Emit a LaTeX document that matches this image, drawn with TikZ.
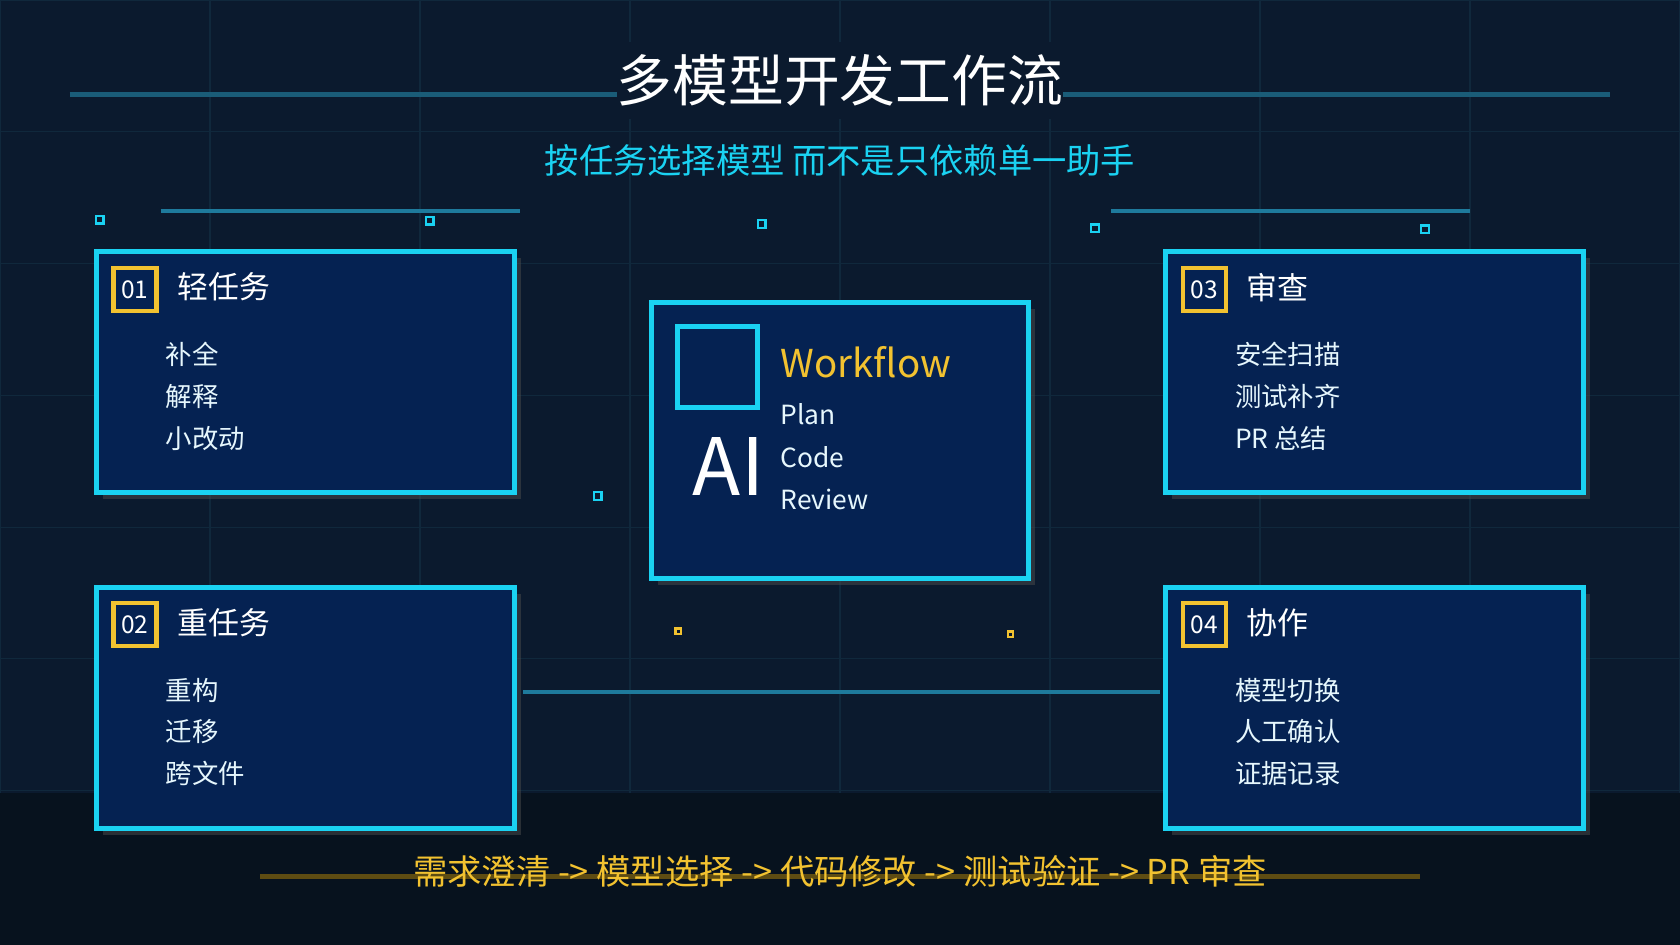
\documentclass[tikz,border=0pt]{standalone}
\usepackage{fontspec}
\setmainfont{Noto Sans CJK SC}
\usetikzlibrary{positioning}
\definecolor{bgtop}{HTML}{0B1A2E}
\definecolor{bgbot}{HTML}{07121E}
\definecolor{cardfill}{HTML}{052252}
\definecolor{cyanline}{HTML}{1AD2F2}
\definecolor{tealline}{HTML}{1A5C78}
\definecolor{tealbright}{HTML}{1E7A9C}
\definecolor{gold}{HTML}{F2C230}
\definecolor{dimgold}{HTML}{5E4C12}
\definecolor{gridc}{HTML}{10283C}
\tikzset{
  card/.style={draw=cyanline, line width=1.3pt, fill=cardfill},
  badge/.style={draw=gold, line width=1.1pt, minimum size=0.4cm, inner sep=0pt, text=white, font=\fontsize{6.5}{7}\selectfont},
  heading/.style={anchor=west, text=white, font=\fontsize{8.2}{10}\selectfont, inner sep=0pt},
  item/.style={anchor=west, text=white!90!cyan, font=\fontsize{7}{8}\selectfont, inner sep=0pt},
  dot/.style={draw=cyanline, line width=0.6pt, minimum size=0.07cm, inner sep=0pt},
}
\begin{document}
\begin{tikzpicture}[x=0.01cm, y=-0.01cm]
  \useasboundingbox (0,0) rectangle (1568,882);
  \fill[bgtop] (0,0) rectangle (1568,740);
  \fill[bgbot] (0,740) rectangle (1568,882);
  % faint grid
  \foreach \x in {0,196,...,1568} \draw[gridc, line width=0.3pt] (\x,0) -- (\x,740);
  \foreach \y in {0,123,...,740} \draw[gridc, line width=0.3pt] (0,\y) -- (1568,\y);

  % title
  \draw[tealline, line width=1.2pt] (65,88) -- (1503,88);
  \node[fill=bgtop, text=white, font=\fontsize{14.8}{16}\selectfont, inner xsep=0pt] (title) at (784,75) {多模型开发工作流};
  \node[text=cyanline, font=\fontsize{9.1}{10}\selectfont] (subtitle) at (784,150) {按任务选择模型 而不是只依赖单一助手};

  % decorations
  \draw[tealbright, line width=1.2pt] (150,197) -- (485,197);
  \draw[tealbright, line width=1.2pt] (1037,197) -- (1372,197);
  \foreach \px/\py in {93/205,401/206,711/209,1022/213,1330/214,558/463}
    \node[dot] at (\px,\py) {};
  \foreach \px/\py in {633/589,943/592}
    \node[dot, draw=gold, minimum size=0.05cm] at (\px,\py) {};
  \draw[tealbright, line width=1.2pt] (488,646) -- (1083,646);

  % cards
  \foreach \cx/\cy/\num/\head/\ia/\ib/\ic in {
      90/235/01/轻任务/补全/解释/小改动,
      90/548/02/重任务/重构/迁移/跨文件,
      1088/235/03/审查/安全扫描/测试补齐/PR 总结,
      1088/548/04/协作/模型切换/人工确认/证据记录}{
    \fill[black!70, opacity=0.5] (\cx+6,\cy+6) rectangle (\cx+396,\cy+231);
    \draw[card] (\cx,\cy) rectangle (\cx+390,\cy+225);
    \node[badge] (b\num) at (\cx+36,\cy+35) {\num};
    \node[heading] (h\num) at (\cx+75,\cy+33) {\head};
    \node[item] (i\num a) at (\cx+64,\cy+96) {\ia};
    \node[item] (i\num b) at (\cx+64,\cy+135) {\ib};
    \node[item] (i\num c) at (\cx+64,\cy+174) {\ic};
  }

  % center card
  \fill[black!70, opacity=0.5] (614,288) rectangle (966,546);
  \draw[card] (608,282) rectangle (960,540);
  \draw[cyanline, line width=1.3pt] (632,305) rectangle (707,380);
  \node[text=white, font=\fontsize{21}{24}\selectfont] (ai) at (680,435) {AI};
  \node[anchor=west, text=gold, font=\fontsize{10.2}{12}\selectfont, inner sep=0pt] (wf) at (728,338) {Workflow};
  \node[item] (plan) at (728,387) {Plan};
  \node[item] (code) at (728,427) {Code};
  \node[item] (review) at (728,466) {Review};

  % bottom flow
  \draw[dimgold, line width=1.4pt] (243,818) -- (1325,818);
  \node[text=gold, font=\fontsize{9.1}{10}\selectfont] (flow) at (784,813) {需求澄清 -> 模型选择 -> 代码修改 -> 测试验证 -> PR 审查};
\end{tikzpicture}
\end{document}
